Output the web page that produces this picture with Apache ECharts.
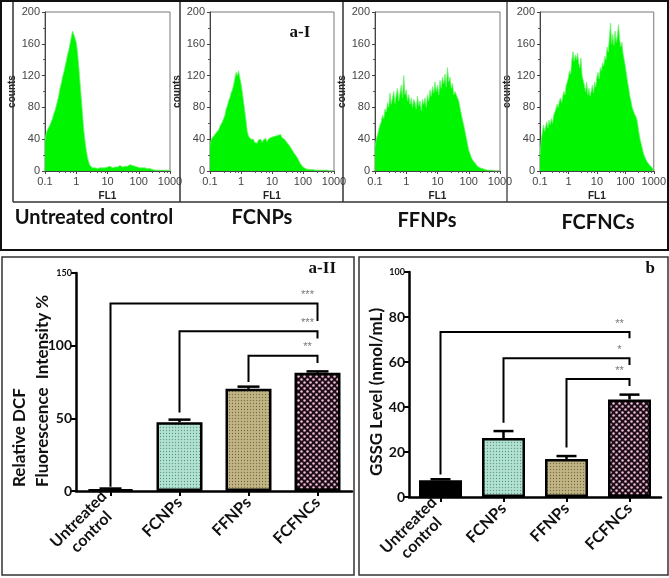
<!DOCTYPE html>
<html>
<head>
<meta charset="utf-8">
<script src="https://cdn.jsdelivr.net/npm/echarts@6/dist/echarts.min.js"></script>
<style>
html,body{margin:0;padding:0;background:#fff;}
#c{width:669px;height:578px;}
</style>
</head>
<body>
<div id="c"></div>
<script>
// ---------------- DATA ----------------
// Flow cytometry histograms: counts per FL1 channel, 25 channels per decade from 0.1 to 1000
const histTitles = ['Untreated control', 'FCNPs', 'FFNPs', 'FCFNCs'];
const histUntreated = [
  38,48,52,50,58, 62,66,72,76,82, 88,95,104,110,118, 124,131,138,146,152,
  160,168,176,172,174, 162,150,132,112,92, 72,52,38,26,17, 11,7,5,4,5,
  4,5,3,5,4, 5,4,6,4,5, 5,4,6,5,4, 6,5,7,5,6,
  7,6,5,7,6, 8,6,7,8,6, 7,5,6,7,5, 6,4,5,4,3,
  4,3,3,2,3, 2,2,2,1,2, 1,1,1,1,1, 1,1,0,1,0,1
];
const histFCNPs = [
  32,40,38,44,42, 48,46,52,56,58, 62,66,70,78,82, 88,92,98,102,108,
  116,124,120,126,118, 110,100,88,76,64, 50,44,42,40,38, 40,36,38,35,39,
  37,40,36,39,38, 41,37,40,38,42, 40,43,41,44,42, 45,43,46,42,44,
  40,38,36,35,32, 30,27,25,22,20, 18,16,12,9,7, 5,4,3,3,2,
  2,2,1,2,1, 1,1,1,1,1, 1,1,1,1,0, 1,1,0,1,0,1
];
const histFFNPs = [
  30,40,45,52,58, 62,70,66,78,74, 86,80,98,84,92, 100,85,96,104,88,
  98,108,92,120,96, 102,88,96,84,92, 80,90,86,78,94, 82,88,76,90,84,
  92,80,96,88,102, 94,106,98,112,100, 108,96,114,104,118, 110,122,106,130,112,
  118,104,110,96,100, 98,92,88,80,72, 64,58,50,42,34, 26,22,17,14,12,
  10,8,6,5,4, 4,3,2,2,1, 1,1,1,1,1, 1,0,1,0,0,0
];
const histFCFNCs = [
  20,38,48,58,50, 56,62,54,64,58, 66,60,70,74,78, 84,80,88,92,86,
  94,100,96,108,112, 118,126,122,140,150, 138,146,140,148,136, 130,142,120,114,108,
  100,112,96,104,94, 100,108,98,112,106, 118,124,116,130,126, 136,132,144,140,156,
  150,168,186,160,172, 158,176,162,170,184, 166,156,162,148,150, 132,122,112,104,94,
  88,80,78,72,70, 66,58,48,40,34, 28,22,18,16,12, 10,8,6,5,4,2
];
const histTickLabels = ['0.1', '1', '10', '100', '1000'];
const countTicks = [0, 40, 80, 120, 160, 200];

// Bar charts
const barCategories = ['Untreated\ncontrol', 'FCNPs', 'FFNPs', 'FCFNCs'];
const dcfMeans  = [1.2, 47.3, 70.3, 81.3];
const dcfErrors = [0.5, 1.8, 1.5, 1.0];
const gssgMeans  = [7.5, 26.2, 16.9, 43.3];
const gssgErrors = [0.4, 3.1, 1.3, 2.2];
// brackets: [fromIndex, toIndex, leftFoot, top, rightFoot]
const dcfBrackets  = [[0,3,3,129,117],[1,3,54,110,105],[2,3,75,93,88]];
const dcfStars     = ['***','***','**'];
const gssgBrackets = [[0,3,10,73.3,70.6],[1,3,33,61.7,58.7],[2,3,22,52.4,49.3]];
const gssgStars    = ['**','*','**'];

// ---------------- HELPERS ----------------
const binX = Array.from({length: 101}, (_, i) => Math.pow(10, -1 + i / 25));
const LATO = 'Lato, "Open Sans", sans-serif';
const NARROW = '"Liberation Sans Narrow", "Liberation Sans", Arial, sans-serif';

function makePattern(w, h, bg, dots, dotColor, r) {
  const c = document.createElement('canvas');
  c.width = w; c.height = h;
  const g = c.getContext('2d');
  g.fillStyle = bg; g.fillRect(0, 0, w, h);
  g.fillStyle = dotColor;
  dots.forEach(d => { g.beginPath(); g.arc(d[0], d[1], r, 0, Math.PI * 2); g.fill(); });
  return {image: c, repeat: 'repeat'};
}
const patFCNPs  = makePattern(3, 3, '#b4e2d2', [[1.5,1.5]], '#5e9e8c', 0.7);
const patFFNPs  = makePattern(3, 3, '#c2b585', [[1.5,1.5]], '#7a6d45', 0.7);
const patFCFNCs = makePattern(6, 6, '#1a0f14', [[1.5,1.5],[4.5,4.5]], '#f4b8dc', 1.25);
const barColors = ['#000000', patFCNPs, patFFNPs, patFCFNCs];

const histGrids = [
  {left: 45,  top: 12, width: 125, height: 159},
  {left: 210, top: 12, width: 124, height: 159},
  {left: 375, top: 12, width: 125, height: 159},
  {left: 540, top: 12, width: 118, height: 159}
];
const histData = [histUntreated, histFCNPs, histFFNPs, histFCFNCs];

const grids = [], xAxes = [], yAxes = [], series = [];
histGrids.forEach((g, i) => {
  grids.push(Object.assign({show: true, borderColor: '#777', borderWidth: 1, backgroundColor: '#fff'}, g));
  xAxes.push({
    type: 'log', logBase: 10, gridIndex: i, min: 0.1, max: 1000,
    name: 'FL1', nameLocation: 'middle', nameGap: 20,
    nameTextStyle: {fontWeight: 'bold', fontSize: 10, color: '#222', fontFamily: NARROW},
    axisLine: {lineStyle: {color: '#444', width: 1}},
    axisTick: {length: 3, lineStyle: {color: '#444'}},
    minorTick: {show: true, splitNumber: 5, length: 2, lineStyle: {color: '#555'}},
    splitLine: {show: false}, minorSplitLine: {show: false},
    axisLabel: {fontSize: 11, color: '#444', margin: 5, fontFamily: NARROW,
      formatter: v => histTickLabels[Math.round(Math.log10(v)) + 1]}
  });
  yAxes.push({
    type: 'value', gridIndex: i, min: 0, max: 200, interval: 40,
    name: 'counts', nameLocation: 'middle', nameGap: 25, nameRotate: 90,
    nameTextStyle: {fontWeight: 'bold', fontSize: 10, color: '#222', fontFamily: NARROW},
    axisLine: {show: true, lineStyle: {color: '#444', width: 1}},
    axisTick: {show: true, length: 3, lineStyle: {color: '#444'}},
    minorTick: {show: true, splitNumber: 2, length: 2, lineStyle: {color: '#555'}},
    splitLine: {show: false},
    axisLabel: {fontSize: 11, color: '#444', margin: 5, fontFamily: NARROW,
      formatter: v => countTicks.indexOf(v) >= 0 ? String(v) : ''}
  });
  series.push({
    type: 'line', xAxisIndex: i, yAxisIndex: i, silent: true,
    data: binX.map((x, k) => [x, histData[i][k]]),
    symbol: 'none', lineStyle: {color: '#6cf56c', width: 0.8},
    areaStyle: {color: '#00f500', opacity: 1}
  });
});

function barPanel(gi, grid, ymax, yint, means, errs, brackets, stars, capHalf, barW) {
  grids.push(Object.assign({show: false}, grid));
  xAxes.push({
    type: 'category', gridIndex: gi, data: barCategories,
    axisLine: {lineStyle: {color: '#000', width: 2.5}},
    axisTick: {show: true, alignWithLabel: true, length: 5, lineStyle: {color: '#000', width: 2}},
    axisLabel: {
      rotate: 45, margin: 9, interval: 0,
      formatter: v => v.split('\n').map(s => '{a|' + s + '}').join('\n'),
      rich: {a: {fontWeight: 'bold', fontSize: 16, fontFamily: LATO, color: '#111', align: 'center', lineHeight: 18}}
    }
  });
  yAxes.push({
    type: 'value', gridIndex: gi, min: 0, max: ymax, interval: yint,
    axisLine: {show: true, lineStyle: {color: '#000', width: 2.5}},
    axisTick: {show: true, length: 5, lineStyle: {color: '#000', width: 2}},
    splitLine: {show: false},
    axisLabel: {
      margin: 4,
      formatter: v => v === ymax ? '{s|' + v + '}' : '{n|' + v + '}',
      rich: {
        n: {fontWeight: 'bold', fontSize: 14, fontFamily: LATO, color: '#111'},
        s: {fontWeight: 'bold', fontSize: 9, fontFamily: LATO, color: '#111'}
      }
    }
  });
  series.push({
    type: 'bar', xAxisIndex: gi, yAxisIndex: gi, barWidth: barW, silent: true,
    data: means.map((m, k) => ({value: m, itemStyle: {color: barColors[k]}})),
    itemStyle: {borderColor: '#000', borderWidth: 2.5}, z: 2
  });
  series.push({
    type: 'custom', xAxisIndex: gi, yAxisIndex: gi, silent: true, z: 3,
    data: means.map((m, k) => [k, m, errs[k]]),
    encode: {x: 0, y: 1},
    renderItem: (params, api) => {
      const k = api.value(0), m = api.value(1), e = api.value(2);
      const p0 = api.coord([k, m]), p1 = api.coord([k, m + e]);
      return {type: 'group', children: [
        {type: 'line', shape: {x1: p0[0], y1: p0[1], x2: p1[0], y2: p1[1]}, style: {stroke: '#000', lineWidth: 2.5}},
        {type: 'line', shape: {x1: p1[0] - capHalf, y1: p1[1], x2: p1[0] + capHalf, y2: p1[1]}, style: {stroke: '#000', lineWidth: 2.5}}
      ]};
    }
  });
  series.push({
    type: 'custom', xAxisIndex: gi, yAxisIndex: gi, silent: true, z: 4, clip: false,
    data: brackets,
    encode: {x: [0, 1], y: [2, 3, 4]},
    renderItem: (params, api) => {
      const a = api.value(0), b = api.value(1);
      const lf = api.value(2), top = api.value(3), rf = api.value(4);
      const pL = api.coord([a, lf]), pLT = api.coord([a, top]);
      const pRT = api.coord([b, top]), pR = api.coord([b, rf]);
      return {type: 'group', children: [
        {type: 'polyline', shape: {points: [pL, pLT, pRT, pR]}, style: {stroke: '#000', lineWidth: 2, fill: null}},
        {type: 'text', style: {text: stars[params.dataIndex], x: pRT[0] - 10, y: pRT[1] - 3,
          textAlign: 'center', textVerticalAlign: 'bottom', fill: '#777', font: '11px "Liberation Sans", Arial'}}
      ]};
    }
  });
}
barPanel(4, {left: 76, top: 273, width: 276, height: 218}, 150, 50, dcfMeans, dcfErrors, dcfBrackets, dcfStars, 11, 46);
barPanel(5, {left: 409, top: 272, width: 252, height: 225}, 100, 20, gssgMeans, gssgErrors, gssgBrackets, gssgStars, 10, 43);

const graphics = [
  {type: 'rect', shape: {x: 1, y: 1, width: 667, height: 249}, style: {fill: null, stroke: '#111', lineWidth: 2}, z: 100},
  {type: 'line', shape: {x1: 13, y1: 2, x2: 13, y2: 202}, style: {stroke: '#333', lineWidth: 1.5}, z: 100},
  {type: 'line', shape: {x1: 180, y1: 2, x2: 180, y2: 202}, style: {stroke: '#333', lineWidth: 1.5}, z: 100},
  {type: 'line', shape: {x1: 343, y1: 2, x2: 343, y2: 202}, style: {stroke: '#333', lineWidth: 1.5}, z: 100},
  {type: 'line', shape: {x1: 507, y1: 2, x2: 507, y2: 202}, style: {stroke: '#555', lineWidth: 1.5}, z: 100},
  {type: 'line', shape: {x1: 13, y1: 202, x2: 667, y2: 202}, style: {stroke: '#333', lineWidth: 1.5}, z: 100},
  {type: 'rect', shape: {x: 2, y: 257, width: 352, height: 318}, style: {fill: null, stroke: '#333', lineWidth: 1.5}, z: 100},
  {type: 'rect', shape: {x: 359, y: 257, width: 309, height: 318}, style: {fill: null, stroke: '#333', lineWidth: 1.5}, z: 100},
  {type: 'text', x: 94, y: 218, style: {text: histTitles[0], textAlign: 'center', textVerticalAlign: 'middle', font: 'bold 20px Lato', fill: '#111'}},
  {type: 'text', x: 262, y: 218, style: {text: histTitles[1], textAlign: 'center', textVerticalAlign: 'middle', font: 'bold 20px Lato', fill: '#111'}},
  {type: 'text', x: 427, y: 221, style: {text: histTitles[2], textAlign: 'center', textVerticalAlign: 'middle', font: 'bold 20px Lato', fill: '#111'}},
  {type: 'text', x: 598, y: 223, style: {text: histTitles[3], textAlign: 'center', textVerticalAlign: 'middle', font: 'bold 20px Lato', fill: '#111'}},
  {type: 'text', x: 300, y: 33, style: {text: 'a-I', textAlign: 'center', textVerticalAlign: 'middle', font: 'bold 17px "Liberation Serif", serif', fill: '#111'}},
  {type: 'text', x: 336, y: 269, style: {text: 'a-II', textAlign: 'right', textVerticalAlign: 'middle', font: 'bold 17px "Liberation Serif", serif', fill: '#111'}},
  {type: 'text', x: 655, y: 269, style: {text: 'b', textAlign: 'right', textVerticalAlign: 'middle', font: 'bold 17px "Liberation Serif", serif', fill: '#111'}},
  {type: 'text', x: 20, y: 487, rotation: Math.PI / 2, style: {text: 'Relative DCF', textAlign: 'left', textVerticalAlign: 'middle', font: 'bold 17px Lato', fill: '#111'}},
  {type: 'text', x: 43, y: 487, rotation: Math.PI / 2, style: {text: 'Fluorescence  Intensity %', textAlign: 'left', textVerticalAlign: 'middle', font: 'bold 17px Lato', fill: '#111'}},
  {type: 'text', x: 377, y: 392, rotation: Math.PI / 2, style: {text: 'GSSG Level (nmol/mL)', textAlign: 'center', textVerticalAlign: 'middle', font: 'bold 17px Lato', fill: '#111'}}
];

const chart = echarts.init(document.getElementById('c'), null, {renderer: 'canvas'});
chart.setOption({
  animation: false,
  backgroundColor: '#fff',
  grid: grids, xAxis: xAxes, yAxis: yAxes, series: series, graphic: graphics
});
</script>
</body>
</html>
